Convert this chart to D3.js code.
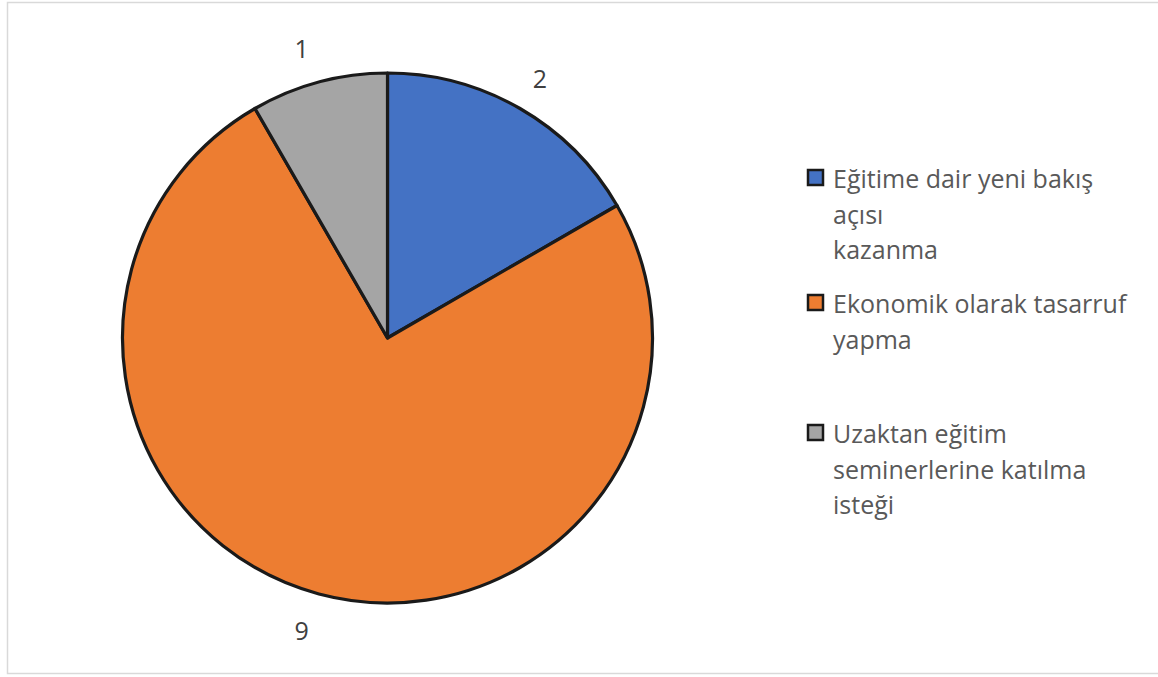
<!DOCTYPE html>
<html>
<head>
<meta charset="utf-8">
<script src="https://cdn.jsdelivr.net/npm/d3@7"></script>
<style>
  html, body { margin: 0; padding: 0; background: #fff; }
  svg { display: block; }
</style>
</head>
<body>
<svg id="chart" width="1158" height="677"></svg>
<script>
// Chart data
const categories = [
  "Eğitime dair yeni bakış açısı kazanma",
  "Ekonomik olarak tasarruf yapma",
  "Uzaktan eğitim seminerlerine katılma isteği"
];
const values = [2, 9, 1];
const colors = ["#4472c4", "#ed7d31", "#a5a5a5"];
// Legend text as wrapped lines
const legendLines = [
  ["Eğitime dair yeni bakış", "açısı", "kazanma"],
  ["Ekonomik olarak tasarruf", "yapma"],
  ["Uzaktan eğitim", "seminerlerine katılma", "isteği"]
];

const svg = d3.select("#chart");
const font = "'Open Sans', sans-serif";

// Outer frame
svg.append("rect")
  .attr("x", 7.5).attr("y", 2.5)
  .attr("width", 1160).attr("height", 671)
  .attr("fill", "#fff")
  .attr("stroke", "#d9d9d9").attr("stroke-width", 1.5);

const cx = 387.5, cy = 338, r = 265;
const data = categories.map((c, i) => ({ cat: c, value: values[i], color: colors[i] }));

const pie = d3.pie().value(d => d.value).sort(null);
const arc = d3.arc().innerRadius(0).outerRadius(r);
const labelArc = d3.arc().innerRadius(301).outerRadius(301);

const g = svg.append("g").attr("transform", `translate(${cx},${cy})`);
const arcs = pie(data);

g.selectAll("path.slice")
  .data(arcs)
  .join("path")
  .attr("class", "slice")
  .attr("d", arc)
  .attr("fill", d => d.data.color)
  .attr("stroke", "#1a1a1a")
  .attr("stroke-width", 3.2)
  .attr("stroke-linejoin", "round");

g.selectAll("text.val")
  .data(arcs)
  .join("text")
  .attr("class", "val")
  .attr("transform", d => {
    const [x, y] = labelArc.centroid(d);
    return `translate(${x + (x < 0 ? -8 : 2)},${y + 1})`;
  })
  .attr("text-anchor", "middle")
  .attr("dominant-baseline", "central")
  .attr("font-family", font)
  .attr("font-size", 25)
  .attr("fill", "#404040")
  .text(d => d.data.value);

// Legend
const legendTops = [178, 303, 433];
const lineH = 35.5;
const lg = svg.append("g");
data.forEach((d, i) => {
  lg.append("rect")
    .attr("x", 808).attr("y", legendTops[i] - 8)
    .attr("width", 15).attr("height", 15)
    .attr("fill", d.color)
    .attr("stroke", "#1a1a1a").attr("stroke-width", 2.5);
  const t = lg.append("text")
    .attr("font-family", font)
    .attr("font-size", 25)
    .attr("fill", "#595959");
  legendLines[i].forEach((line, j) => {
    t.append("tspan")
      .attr("x", 833)
      .attr("y", legendTops[i] + j * lineH)
      .attr("dominant-baseline", "central")
      .text(line);
  });
});
</script>
</body>
</html>
